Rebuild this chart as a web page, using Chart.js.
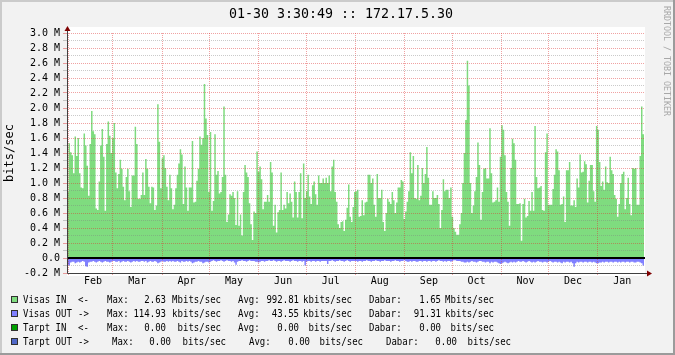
<!DOCTYPE html>
<html><head><meta charset="utf-8">
<script src="https://cdn.jsdelivr.net/npm/chart.js@4.4.1/dist/chart.umd.min.js"></script>
<style>
html,body{margin:0;padding:0;}
body{width:675px;height:355px;overflow:hidden;background:#f2f2f2;font-family:"DejaVu Sans Mono",monospace;}
#wrap{position:relative;width:675px;height:355px;}
#c{position:absolute;left:0;top:0;}
.abs{position:absolute;white-space:pre;color:#000;}
.lg{position:absolute;font-size:11px;line-height:11px;color:#000;white-space:pre;transform:scaleX(0.82);}
.box{position:absolute;width:5px;height:5px;border:1px solid #303030;}
.fr{position:absolute;}
</style></head>
<body><div id="wrap">
<canvas id="c" width="675" height="355"></canvas>
<div class="abs" style="left:0;width:682px;top:6px;text-align:center;font-size:13.3px;line-height:15px;">01-30 3:30:49 :: 172.17.5.30</div>
<div class="abs" style="left:671px;top:6px;font-size:8.3px;line-height:9px;color:#a8a8a8;transform:rotate(90deg);transform-origin:0 0;">RRDTOOL / TOBI OETIKER</div>
<div id="legend"></div>
<div class="fr" style="left:0;top:0;width:675px;height:2px;background:#cbcbcb"></div>
<div class="fr" style="left:0;top:0;width:2px;height:355px;background:#cbcbcb"></div>
<div class="fr" style="left:673px;top:0;width:2px;height:355px;background:#9b9b9b"></div>
<div class="fr" style="left:0;top:353px;width:675px;height:2px;background:#9b9b9b"></div>
</div>
<script>
// ---------- data (Mbit/s, one value per step) ----------
const inSeg1 = [0.88,1.53,1.41,1.37,1.13,1.62,1.36,1.6,1.13,0.94,
0.93,1.66,1.5,1.23,0.83,1.52,1.96,1.69,1.65,0.66,
0.64,1.02,1.5,1.72,1.35,0.63,1.52,1.82,1.63,1.4,
1.6,1.8,1.14,0.93,1.12,1.31,1.19,0.95,0.77,1.08,
1.19,0.89,0.68,1.1,1.1,1.75,1.52,0.79,0.79,0.84,
1.14,0.84,1.32,1.19,0.95,0.73,0.95,0.94,0.64,0.7,
2.05,1.55,0.93,1.33,1.37,1.2,0.95,0.77,1.11,0.93,
0.65,0.71,0.93,1.11,1.26,1.45,1.38,0.72,1.22,0.94,
0.63,0.94,0.94,1.56,0.74,0.75,1.03,1.19,1.62,1.51,
1.6,2.32,1.86,1.64,0.88,1.68];
const inSeg2 = [0.63,0.76,1.65,1.11,1.16,0.86,0.88,1.08,2.02,1.11,
0.48,0.58,0.85,0.83,0.88,0.8,0.44,0.89,0.43,0.58,
0.3,0.88,1.24,1.14,1.08,0.73,0.45,0.24,0.62,0.6,
1.42,1.15,1.22,1.05,0.65,0.75,0.75,0.84,0.75,1.28,
1.14,0.43,0.71,0.34,0.61,0.64,1.14,0.64,0.71,0.66,
0.88,0.73,0.86,0.75,0.54,1.02,0.88,0.54,0.88,1.13,
0.53,1.26,0.8,0.89,1.11,0.82,0.72,0.97,1.02,0.85,
0.71,1.1,1.0,1.0,1.06,1.0,1.07,1.0,1.1,0.89,
1.22,1.31,0.88,0.75,0.45,0.4,0.48,0.49,0.36,0.51,
0.67,0.98,0.55,0.48,0.68];
const inSeg3 = [0.88,0.89,0.91,0.55,0.56,0.77,0.57,0.74,0.75,1.11,
1.11,1.0,1.06,0.71,0.55,1.12,0.8,0.8,0.91,0.48,
0.36,0.6,0.79,0.75,0.72,0.88,0.77,0.6,0.74,0.94,
0.94,1.04,1.02,0.52,0.62,0.75,0.89,1.41,1.13,1.36,
0.8,0.79,1.24,0.77,0.83,1.2,1.0,1.12,1.48,1.07,
0.71,0.71,0.89,0.8,0.8,0.84,0.72,0.4,0.64,1.05,
0.89,0.91,0.91,0.8,0.94,0.55,0.4,0.35,0.31,0.31,
0.45,0.6,1.0,1.4,1.84,2.63,2.3,1.0,0.6,0.7,
0.89,1.08,1.54,1.24,0.51,0.88,1.19,1.2,1.06,1.06,
1.73,1.13,0.74,0.75,0.77,0.94];
const inSeg4 = [0.75,1.35,1.77,1.71,1.37,0.88,0.75,0.43,1.2,1.59,
1.53,1.31,0.72,0.72,0.73,0.23,0.72,0.79,0.54,0.56,
0.76,0.63,0.88,0.63,1.76,1.08,0.93,0.94,0.96,0.64,
0.63,1.41,1.66,0.71,0.71,0.71,0.92,1.11,1.45,1.42,
1.17,0.71,0.72,0.82,0.48,1.17,1.17,1.28,0.7,0.7,
0.77,0.68,1.06,0.94,1.38,1.14,1.15,1.29,1.25,0.74,
1.03,1.24,1.24,0.89,0.75,1.76,1.71,1.28,0.96,1.02,
0.91,1.22,1.01,1.0,1.35,1.17,1.12,0.84,0.79,0.55,
0.72,1.0,1.12,1.15,0.65,0.8,1.07,0.72,0.57,1.2,
1.19,1.2,0.71,0.71,1.36,2.02,1.65];

const outSeg1 = [0.09,0.10,0.06,0.05,0.05,0.07,0.06,0.05,0.06,0.05,
0.04,0.05,0.11,0.115,0.06,0.05,0.05,0.04,0.05,0.06,
0.05,0.04,0.05,0.06,0.05,0.04,0.05,0.05,0.06,0.05,
0.04,0.04,0.05,0.05,0.04,0.06,0.05,0.04,0.05,0.05,
0.04,0.05,0.06,0.05,0.04,0.05,0.04,0.05,0.05,0.04,
0.04,0.05,0.04,0.06,0.05,0.04,0.05,0.05,0.04,0.05,
0.07,0.06,0.05,0.04,0.05,0.05,0.04,0.05,0.04,0.05,
0.04,0.05,0.05,0.04,0.05,0.06,0.04,0.05,0.05,0.04,
0.05,0.04,0.05,0.07,0.06,0.05,0.05,0.04,0.05,0.05,
0.07,0.06,0.05,0.05,0.06,0.05];
const outSeg2 = [0.04,0.03,0.04,0.05,0.04,0.04,0.03,0.04,0.05,0.04,
0.03,0.04,0.04,0.05,0.04,0.06,0.09,0.05,0.04,0.04,
0.03,0.04,0.04,0.05,0.04,0.03,0.04,0.04,0.04,0.05,
0.05,0.06,0.05,0.04,0.04,0.05,0.04,0.04,0.03,0.04,
0.04,0.03,0.04,0.05,0.04,0.04,0.05,0.04,0.03,0.04,
0.04,0.04,0.05,0.04,0.03,0.04,0.04,0.05,0.04,0.04,
0.05,0.04,0.10,0.05,0.04,0.04,0.05,0.04,0.04,0.05,
0.04,0.04,0.05,0.04,0.04,0.04,0.04,0.08,0.04,0.04,
0.03,0.04,0.05,0.04,0.04,0.03,0.04,0.04,0.05,0.04,
0.03,0.04,0.05,0.04,0.04];
const outSeg3 = [0.04,0.04,0.05,0.04,0.04,0.05,0.04,0.04,0.03,0.04,
0.04,0.05,0.04,0.04,0.03,0.04,0.04,0.05,0.04,0.04,
0.03,0.04,0.04,0.04,0.05,0.04,0.04,0.03,0.04,0.04,
0.05,0.04,0.04,0.03,0.04,0.05,0.05,0.04,0.05,0.04,
0.04,0.05,0.05,0.04,0.04,0.05,0.04,0.04,0.05,0.04,
0.04,0.05,0.04,0.04,0.05,0.04,0.03,0.04,0.04,0.05,
0.04,0.05,0.04,0.04,0.05,0.04,0.03,0.03,0.04,0.04,
0.04,0.05,0.05,0.06,0.06,0.05,0.06,0.05,0.04,0.05,
0.05,0.06,0.05,0.04,0.04,0.05,0.05,0.06,0.05,0.05,
0.07,0.05,0.06,0.05,0.05,0.06];
const outSeg4 = [0.07,0.08,0.07,0.06,0.05,0.06,0.07,0.06,0.05,0.06,
0.05,0.06,0.05,0.04,0.05,0.05,0.04,0.05,0.06,0.05,
0.04,0.05,0.06,0.05,0.06,0.05,0.04,0.05,0.05,0.06,
0.05,0.05,0.06,0.05,0.04,0.05,0.06,0.05,0.05,0.06,
0.05,0.06,0.07,0.05,0.06,0.05,0.05,0.06,0.05,0.07,
0.115,0.07,0.05,0.06,0.05,0.05,0.06,0.05,0.05,0.06,
0.05,0.05,0.06,0.05,0.06,0.07,0.07,0.06,0.06,0.05,
0.06,0.05,0.05,0.06,0.05,0.05,0.06,0.05,0.05,0.06,
0.05,0.06,0.05,0.05,0.06,0.05,0.05,0.06,0.05,0.05,
0.06,0.06,0.05,0.05,0.06,0.07,0.10];

// time axis (days from left edge of the graph)
const SPAN_DAYS = 364.15;
const monthNames = ['Feb','Mar','Apr','May','Jun','Jul','Aug','Sep','Oct','Nov','Dec','Jan'];
const monthStartDays = [1,29,60,90,121,151,182,213,243,274,304,335];
const LABEL_OFFSET_DAYS = 15.4;

// value axis (M bits/sec)
const yTickValues = [-0.2,-0.1,0.0,0.1,0.2,0.3,0.4,0.5,0.6,0.7,0.8,0.9,1.0,1.1,1.2,1.3,1.4,1.5,1.6,1.7,1.8,1.9,2.0,2.1,2.2,2.3,2.4,2.5,2.6,2.7,2.8,2.9,3.0];

// legend
const legendNames  = ['Visas IN','Visas OUT','Tarpt IN','Tarpt OUT'];
const legendArrows = ['<-','->','<-','->'];
const legendMax    = ['2.63','114.93','0.00','0.00'];
const legendMaxU   = ['Mbits/sec','kbits/sec','bits/sec','bits/sec'];
const legendAvg    = ['992.81','43.55','0.00','0.00'];
const legendAvgU   = ['kbits/sec','kbits/sec','bits/sec','bits/sec'];
const legendNow    = ['1.65','91.31','0.00','0.00'];
const legendNowU   = ['Mbits/sec','kbits/sec','bits/sec','bits/sec'];

// ---------- styles ----------
const C_IN = '#7fdc7f', C_OUT = '#8080ff', C_TIN = '#00a000', C_TOUT = '#5068c8';
const legendColors = [C_IN, C_OUT, C_TIN, C_TOUT];
const MGRID = 'rgba(222,48,48,0.45)';
const GRID = 'rgba(128,128,128,0.42)';
const CLEAR = 'rgba(0,0,0,0)';
const FONT = '"DejaVu Sans Mono", monospace';

const visasIn = [].concat(inSeg1, inSeg2, inSeg3, inSeg4);
const visasOut = [].concat(outSeg1, outSeg2, outSeg3, outSeg4);
function steps(vals, sign) {
  const n = vals.length, w = SPAN_DAYS / n;
  const pts = vals.map((v, i) => ({x: i * w, y: sign * v}));
  pts.push({x: SPAN_DAYS, y: sign * vals[n - 1]});
  return pts;
}
const labelDays = monthStartDays.map(d => d + LABEL_OFFSET_DAYS);
const xTickList = monthStartDays.map(v => ({value: v, lab: ''}))
  .concat(labelDays.map((v, i) => ({value: v, lab: monthNames[i]})))
  .sort((p, q) => p.value - q.value);
const xGridColors = xTickList.map(t => t.lab ? CLEAR : MGRID);
const yGridColors = yTickValues.map(v => Math.round(v * 10) % 2 === 0 ? MGRID : GRID);

const rrdPlugin = {
  id: 'rrd',
  beforeDraw(chart) {
    const {ctx, chartArea: a} = chart;
    ctx.save();
    ctx.fillStyle = '#ffffff';
    ctx.fillRect(a.left, a.top - 6, a.right - a.left + 1, a.bottom - a.top + 9);
    ctx.restore();
  },
  afterDraw(chart) {
    const {ctx, chartArea: a, scales: {y}} = chart;
    ctx.save();
    const y0 = Math.round(y.getPixelForValue(0));
    ctx.strokeStyle = '#000'; ctx.lineWidth = 2;
    ctx.beginPath(); ctx.moveTo(a.left, y0); ctx.lineTo(a.right + 1, y0); ctx.stroke();
    const yb = Math.round(a.bottom) + 0.5, xl = Math.round(a.left) + 0.5;
    ctx.strokeStyle = '#404040'; ctx.lineWidth = 1;
    ctx.beginPath(); ctx.moveTo(xl, yb); ctx.lineTo(a.right + 4, yb); ctx.stroke();
    ctx.beginPath(); ctx.moveTo(xl, yb); ctx.lineTo(xl, a.top - 3); ctx.stroke();
    ctx.fillStyle = '#7f0000';
    ctx.beginPath(); ctx.moveTo(xl, a.top - 7); ctx.lineTo(xl - 3, a.top - 2); ctx.lineTo(xl + 3, a.top - 2); ctx.closePath(); ctx.fill();
    ctx.beginPath(); ctx.moveTo(a.right + 8, yb); ctx.lineTo(a.right + 3, yb - 3); ctx.lineTo(a.right + 3, yb + 3); ctx.closePath(); ctx.fill();
    ctx.restore();
  }
};

new Chart(document.getElementById('c'), {
  type: 'line',
  data: {
    datasets: [
      {label: 'Visas IN', data: steps(visasIn, 1), stepped: true, fill: 'origin',
       backgroundColor: C_IN, borderColor: C_IN, borderWidth: 0, pointRadius: 0},
      {label: 'Visas OUT', data: steps(visasOut, -1), stepped: true, fill: 'origin',
       backgroundColor: C_OUT, borderColor: C_OUT, borderWidth: 0, pointRadius: 0}
    ]
  },
  options: {
    responsive: false, devicePixelRatio: 1, animation: false,
    layout: {padding: {left: 0, top: 33, right: 31, bottom: 0}},
    plugins: {legend: {display: false}, tooltip: {enabled: false}, title: {display: false}},
    scales: {
      x: {
        type: 'linear', min: 0, max: SPAN_DAYS,
        afterBuildTicks(scale) { scale.ticks = xTickList.map(t => ({value: t.value})); },
        afterFit(scale) { scale.height = 82; },
        grid: {z: 1, color: xGridColors, tickColor: xGridColors, lineWidth: 1, drawTicks: true, tickLength: 2},
        border: {display: false, dash: [1, 1]},
        ticks: {
          autoSkip: false, maxRotation: 0, minRotation: 0, padding: 0, color: '#000',
          font: {family: FONT, size: 10},
          callback: (v, i) => xTickList[i] ? xTickList[i].lab : ''
        }
      },
      y: {
        type: 'linear', min: -0.2, max: 3.0,
        afterBuildTicks(scale) { scale.ticks = yTickValues.map(v => ({value: v})); },
        afterFit(scale) { scale.width = 67; },
        grid: {z: 1, color: yGridColors, tickColor: yGridColors, lineWidth: 1, drawTicks: true, tickLength: 4},
        border: {display: false, dash: [1, 1]},
        title: {display: true, text: 'bits/sec', color: '#000', font: {family: FONT, size: 12}, padding: {top: 3, bottom: 0}},
        ticks: {
          autoSkip: false, padding: 3, color: '#000', font: {family: FONT, size: 10},
          callback: v => {
            const k = Math.round(v * 10);
            if (k % 2 !== 0) return '';
            if (k === 0) return '0.0';
            return (k / 10).toFixed(1) + ' M';
          }
        }
      }
    }
  },
  plugins: [rrdPlugin]
});

// ---------- legend (HTML text) ----------
const rowTops = [294.4, 308.0, 322.0, 335.7];
const rowShift = [[0,0,0],[0,0,0],[0,0,0],[5.3,11,16.7]];
const lg = document.getElementById('legend');
function put(txt, x, top, right) {
  const s = document.createElement('div');
  s.className = 'lg';
  s.textContent = txt;
  if (right) { s.style.left = (x - 200) + 'px'; s.style.width = '200px'; s.style.textAlign = 'right'; s.style.transformOrigin = '100% 50%'; }
  else { s.style.left = x + 'px'; s.style.transformOrigin = '0 50%'; }
  s.style.top = top + 'px';
  lg.appendChild(s);
}
legendNames.forEach((name, r) => {
  const t = rowTops[r], sh = rowShift[r];
  const b = document.createElement('div');
  b.className = 'box'; b.style.left = '11px'; b.style.top = (t + 1.8) + 'px'; b.style.background = legendColors[r];
  lg.appendChild(b);
  put(name, 23.3, t);
  put(legendArrows[r], 78.3, t);
  put('Max:', 106.7 + sh[0], t);
  put(legendMax[r], 165.5 + sh[0], t, true);
  put(legendMaxU[r], 220.5 + sh[0], t, true);
  put('Avg:', 238.3 + sh[1], t);
  put(legendAvg[r], 298.5 + sh[1], t, true);
  put(legendAvgU[r], 352 + sh[1], t, true);
  put('Dabar:', 369.3 + sh[2], t);
  put(legendNow[r], 440.5 + sh[2], t, true);
  put(legendNowU[r], 494 + sh[2], t, true);
});
</script>
</body></html>
